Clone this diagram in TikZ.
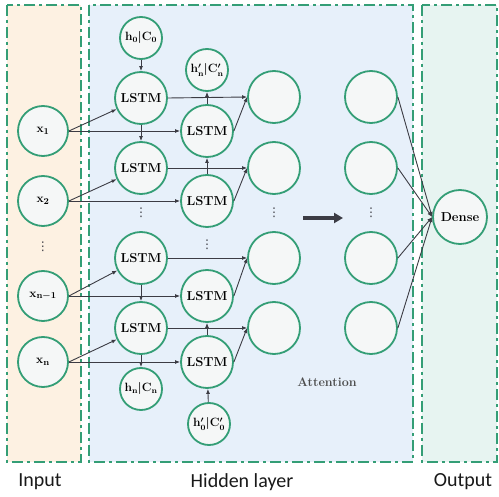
\documentclass[tikz,border=0pt]{standalone}
\usepackage{fontspec}
\newfontfamily\labelfont{Carlito}
\newfontfamily\symfont{DejaVu Sans}
\usetikzlibrary{arrows.meta}
\definecolor{grn}{RGB}{52,158,118}
\definecolor{inbg}{RGB}{253,241,226}
\definecolor{hidbg}{RGB}{231,240,250}
\definecolor{outbg}{RGB}{231,244,241}
\definecolor{arr}{RGB}{60,60,68}
\definecolor{cfill}{RGB}{245,247,247}
\tikzset{
  panel/.style={draw=grn, line width=2.4pt, dash pattern=on 11pt off 4pt on 3pt off 4pt},
  cnode/.style={circle, draw=grn, line width=1.8pt, fill=cfill, inner sep=0pt, font=\bfseries\boldmath},
  big/.style={cnode, minimum size=52pt, font=\fontsize{13}{14}\selectfont\bfseries\boldmath},
  xin/.style={cnode, minimum size=50pt, font=\fontsize{13}{14}\selectfont\bfseries\boldmath},
  small/.style={cnode, minimum size=42pt, font=\fontsize{11.5}{12}\selectfont\bfseries\boldmath},
  con/.style={draw=arr, line width=0.9pt, -{Latex[length=5pt,width=4pt]}},
  dots/.style={font=\symfont\fontsize{12}{12}\selectfont, text=arr, inner sep=0pt},
  lab/.style={font=\labelfont\fontsize{20}{24}\selectfont, text=black!90}
}
\begin{document}
\begin{tikzpicture}[x=1pt,y=-1pt]
\useasboundingbox (0,0) rectangle (499,497);
\fill[white] (0,0) rectangle (499,497);
% panels
\filldraw[panel, fill=inbg] (7,5) rectangle (81,462);
\filldraw[panel, fill=hidbg] (89,5) rectangle (413,462);
\filldraw[panel, fill=outbg] (422,5) rectangle (497,462);
% inputs
\node[xin] (x1) at (43,131) {$\mathbf{x}_1$};
\node[xin] (x2) at (43,201) {$\mathbf{x}_2$};
\node[dots] (xd) at (43,247) {⋮};
\node[xin] (xn1) at (43,296) {$\mathbf{x}_{\mathbf{n}-1}$};
\node[xin] (xn) at (43,362) {$\mathbf{x}_{\mathbf{n}}$};
% forward LSTM column
\node[small] (h0) at (141,38) {$\mathbf{h}_0|\mathbf{C}_0$};
\node[big] (fa) at (141,98) {LSTM};
\node[big] (fb) at (141,168) {LSTM};
\node[dots] (fd) at (141,213) {⋮};
\node[big] (fc) at (141,258) {LSTM};
\node[big] (ff) at (141,328) {LSTM};
\node[small] (hn) at (141,389) {$\mathbf{h}_{\mathbf{n}}|\mathbf{C}_{\mathbf{n}}$};
% backward LSTM column
\node[small] (hpn) at (207,70) {$\mathbf{h}'_{\mathbf{n}}|\mathbf{C}'_{\mathbf{n}}$};
\node[big] (ba) at (207,131) {LSTM};
\node[big] (bb) at (207,201) {LSTM};
\node[dots] (bd) at (207,245) {⋮};
\node[big] (bc) at (207,296) {LSTM};
\node[big] (bf) at (207,362) {LSTM};
\node[small] (hp0) at (209,424) {$\mathbf{h}'_0|\mathbf{C}'_0$};
% hidden outputs
\node[big] (oa) at (274,97) {};
\node[big] (ob) at (274,168) {};
\node[dots] (od) at (274,213) {⋮};
\node[big] (oc) at (274,258) {};
\node[big] (of) at (274,328) {};
% attention column
\node[big] (aa) at (371,97) {};
\node[big] (ab) at (371,168) {};
\node[dots] (ad) at (371,213) {⋮};
\node[big] (ac) at (371,258) {};
\node[big] (af) at (371,328) {};
% dense
\node[cnode, minimum size=54pt, font=\fontsize{13}{14}\selectfont\bfseries] (dense) at (460,217) {Dense};
\node[font=\fontsize{12.5}{14}\selectfont\bfseries, text=black!70] (att) at (327,382) {Attention};
% labels
\node[lab] (lin) at (40,482) {Input};
\node[lab] (lhid) at (242,482) {Hidden layer};
\node[lab] (lout) at (463,482) {Output};
% big arrow
\coordinate (ba1) at (303,218);
\coordinate (ba2) at (343,218);
\draw[draw=arr, line width=3.5pt, -{Triangle[length=9pt,width=10pt]}] (ba1) -- (ba2);
% input connections
\draw[con] (x1.east) -- (fa);
\draw[con] (x1.east) -- (ba.west);
\draw[con] (x2.east) -- (fb);
\draw[con] (x2.east) -- (bb.west);
\draw[con] (xn1.east) -- (fc);
\draw[con] (xn1.east) -- (bc.west);
\draw[con] (xn.east) -- (ff);
\draw[con] (xn.east) -- (bf.west);
% forward chain
\draw[con] (h0) -- (fa);
\draw[con] (fa) -- (fb);
\draw[con] (fc) -- (ff);
\draw[con] (ff) -- (hn);
% backward chain
\draw[con] (hp0) -- (bf);
\draw[con] (bf) -- (bc);
\draw[con] (bb) -- (ba);
\draw[con] (ba) -- (hpn);
% to hidden outputs
\draw[con] (fa.east) -- (oa.west);
\draw[con] (ba.east) -- (oa.west);
\draw[con] (fb.east) -- (ob.west);
\draw[con] (bb.east) -- (ob.west);
\draw[con] (fc.east) -- (oc.west);
\draw[con] (bc.east) -- (oc.west);
\draw[con] (ff.east) -- (of.west);
\draw[con] (bf.east) -- (of.west);
% to dense
\draw[con] (aa.east) -- (dense.west);
\draw[con] (ab.east) -- (dense.west);
\draw[con] (ac.east) -- (dense.west);
\draw[con] (af.east) -- (dense.west);
\end{tikzpicture}
\end{document}
